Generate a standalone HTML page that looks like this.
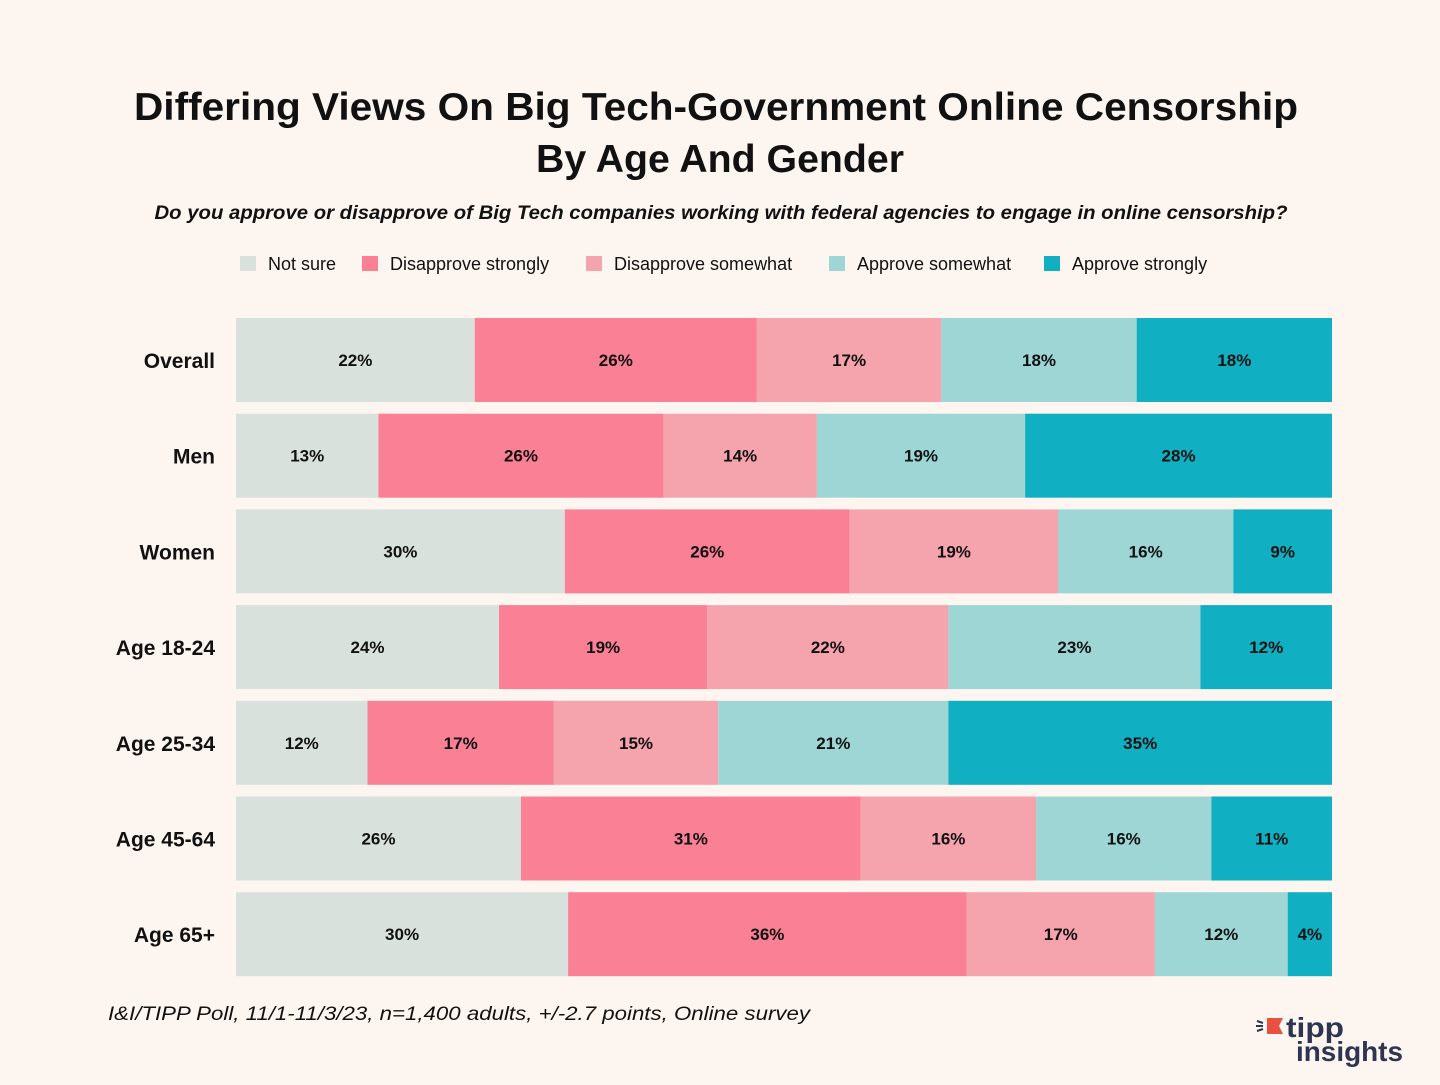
<!DOCTYPE html>
<html><head><meta charset="utf-8">
<style>
body{margin:0;background:#fdf6f0;width:1440px;height:1080px;overflow:hidden;font-family:"Liberation Sans",sans-serif;}
</style></head>
<body>
<svg id="chart" width="1440" height="1080" xmlns="http://www.w3.org/2000/svg">
<rect width="1440" height="1080" fill="#fdf6f0"/>
<text x="716" y="120" text-anchor="middle" font-size="39" font-weight="bold" fill="#111" textLength="1164" lengthAdjust="spacingAndGlyphs">Differing Views On Big Tech-Government Online Censorship</text>
<text x="720" y="172" text-anchor="middle" font-size="39" font-weight="bold" fill="#111" textLength="368" lengthAdjust="spacingAndGlyphs">By Age And Gender</text>
<text x="721" y="219" text-anchor="middle" font-size="19" font-style="italic" font-weight="bold" fill="#111" textLength="1133" lengthAdjust="spacingAndGlyphs">Do you approve or disapprove of Big Tech companies working with federal agencies to engage in online censorship?</text>
<g id="legend"></g>
<g id="bars"></g>
<text x="108" y="1020" font-size="19" font-style="italic" fill="#111" textLength="702" lengthAdjust="spacingAndGlyphs">I&amp;I/TIPP Poll, 11/1-11/3/23, n=1,400 adults, +/-2.7 points, Online survey</text>
<g>
<polygon points="1267,1018 1283,1018 1279,1026 1283,1034 1267,1034" fill="#e8503f"/>
<line x1="1257" y1="1021" x2="1263" y2="1023" stroke="#2e3550" stroke-width="2"/>
<line x1="1256" y1="1026" x2="1263" y2="1026" stroke="#2e3550" stroke-width="2"/>
<line x1="1257" y1="1031" x2="1263" y2="1029" stroke="#2e3550" stroke-width="2"/>
<text x="1286" y="1037" font-size="28" font-weight="bold" fill="#2e3550" textLength="58" lengthAdjust="spacingAndGlyphs">tipp</text>
<text x="1296" y="1061" font-size="28" font-weight="bold" fill="#2e3550" textLength="107" lengthAdjust="spacingAndGlyphs">insights</text>
</g>
</svg>
<script>
const categories=["Overall","Men","Women","Age 18-24","Age 25-34","Age 45-64","Age 65+"];
const seriesNames=["Not sure","Disapprove strongly","Disapprove somewhat","Approve somewhat","Approve strongly"];
const notSure=[22,13,30,24,12,26,30];
const disStrong=[26,26,26,19,17,31,36];
const disSome=[17,14,19,22,15,16,17];
const appSome=[18,19,16,23,21,16,12];
const appStrong=[18,28,9,12,35,11,4];
const series=[notSure,disStrong,disSome,appSome,appStrong];
const colors=["#d8e1dc","#f98095","#f5a3ad","#9ed6d6","#10afc2"];
const NS="http://www.w3.org/2000/svg";
const x0=236,x1=1332,y0=318,pitch=95.7,bh=84;
function xScale(frac){return x0+frac*(x1-x0);}
function yPos(i){return y0+i*pitch;}
const bars=document.getElementById('bars');
categories.forEach((c,i)=>{
  const total=series.reduce((s,a)=>s+a[i],0);
  let cum=0;
  const lab=document.createElementNS(NS,'text');
  lab.setAttribute('x',215);lab.setAttribute('y',yPos(i)+bh/2+8);
  lab.setAttribute('text-anchor','end');lab.setAttribute('font-size','21');lab.setAttribute('font-weight','bold');lab.setAttribute('fill','#111');
  lab.textContent=c;
  
  
  bars.appendChild(lab);
  series.forEach((arr,s)=>{
    const xa=xScale(cum/total);cum+=arr[i];const xb=xScale(cum/total);
    const r=document.createElementNS(NS,'rect');
    r.setAttribute('x',xa);r.setAttribute('y',yPos(i));r.setAttribute('width',xb-xa);r.setAttribute('height',bh);r.setAttribute('fill',colors[s]);
    
    
    bars.appendChild(r);
    const t=document.createElementNS(NS,'text');
    t.setAttribute('x',(xa+xb)/2);t.setAttribute('y',yPos(i)+bh/2+6);t.setAttribute('text-anchor','middle');
    t.setAttribute('font-size','17');t.setAttribute('font-weight','bold');t.setAttribute('fill','#111');
    t.textContent=arr[i]+'%';
    
    
    bars.appendChild(t);
  });
});
const legend=document.getElementById('legend');
const lx=[240,362,586,829,1044];
seriesNames.forEach((n,s)=>{
  const r=document.createElementNS(NS,'rect');
  r.setAttribute('x',lx[s]);r.setAttribute('y',256);r.setAttribute('width',16);r.setAttribute('height',15);r.setAttribute('fill',colors[s]);
  
  
  legend.appendChild(r);
  const t=document.createElementNS(NS,'text');
  t.setAttribute('x',lx[s]+28);t.setAttribute('y',270);t.setAttribute('font-size','18');t.setAttribute('fill','#111');
  t.textContent=n;
  
  
  legend.appendChild(t);
});
</script>
</body></html>
